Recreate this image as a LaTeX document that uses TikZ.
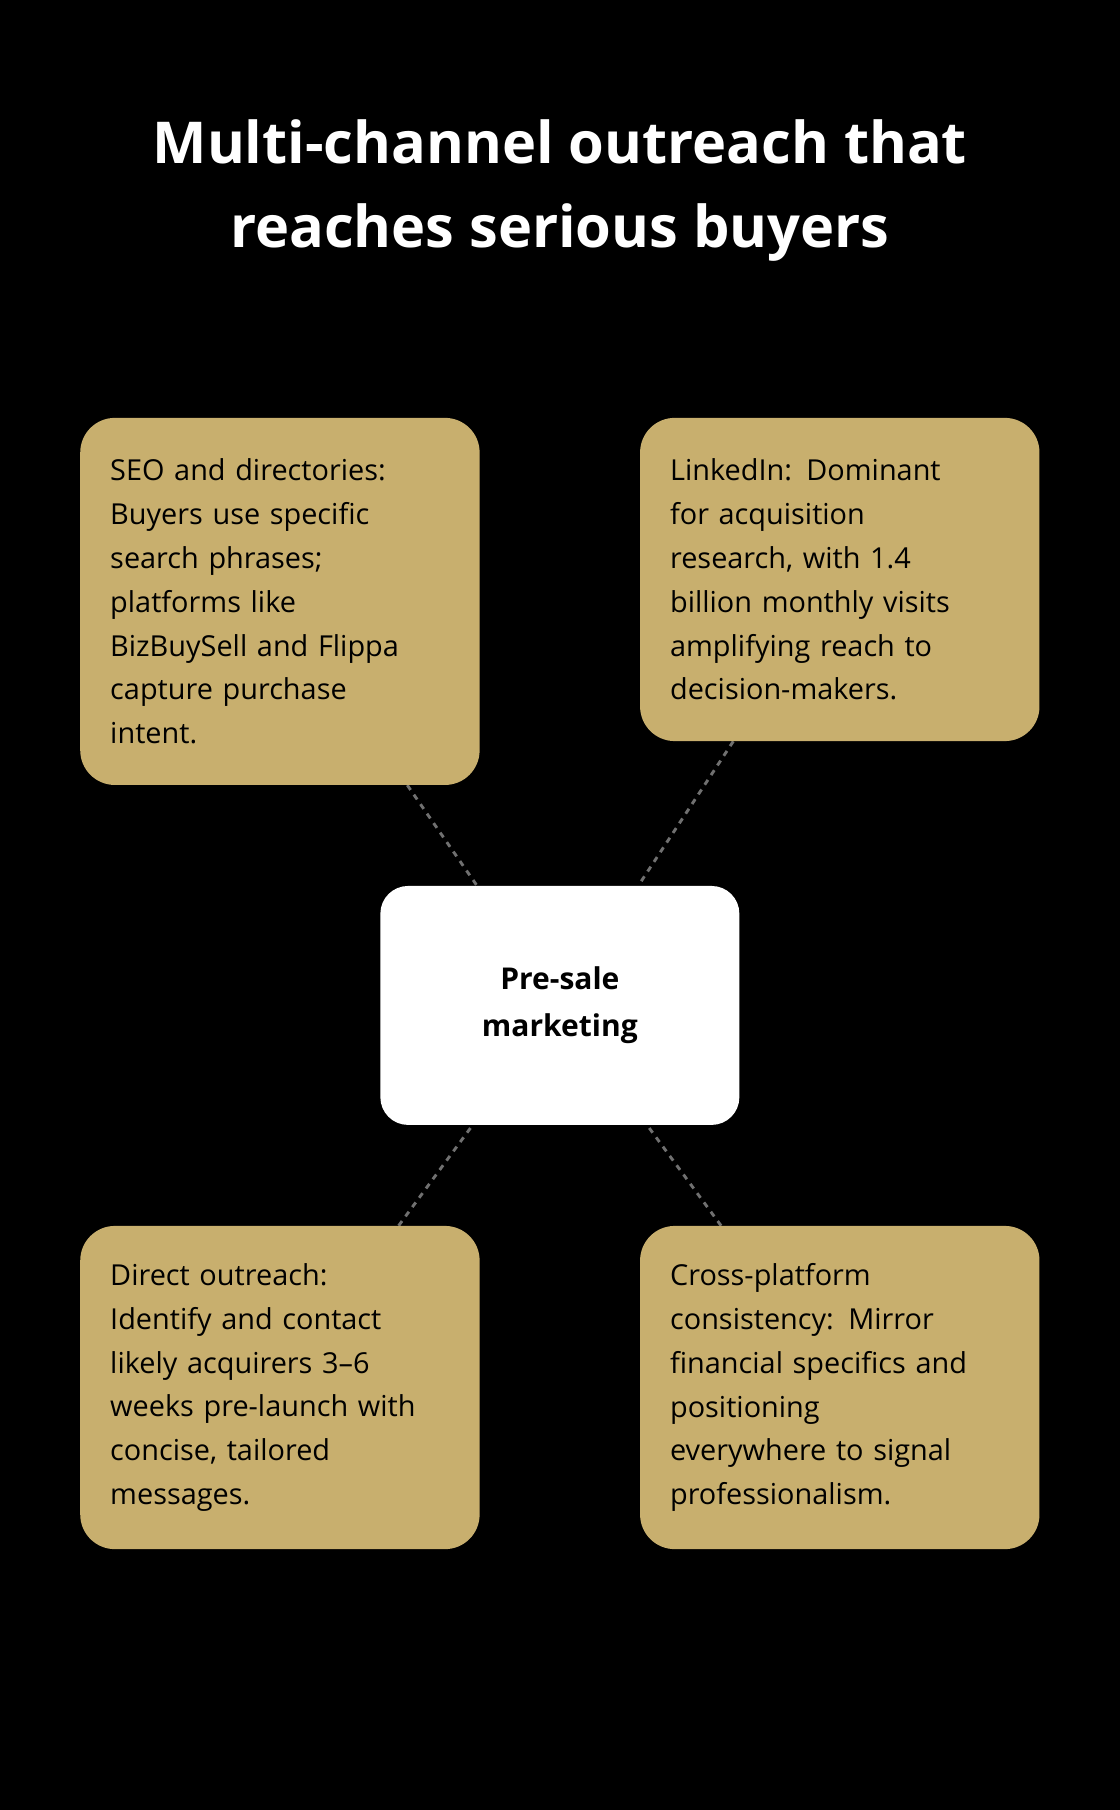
\documentclass[tikz,border=0pt]{standalone}
\usepackage{fontspec}
\setmainfont{Open Sans}
\usetikzlibrary{backgrounds}
\definecolor{gold}{HTML}{C8AF6E}
\definecolor{linkgray}{HTML}{707070}
\begin{document}
\begin{tikzpicture}[x=1pt,y=-1pt,
    card/.style={fill=gold,rounded corners=30pt,minimum width=346pt,text width=294pt,
      inner sep=26pt,align=left,font=\fontsize{25}{38}\selectfont},
    hub/.style={fill=white,rounded corners=24pt,minimum width=311pt,minimum height=207pt,
      align=center,font=\bfseries\fontsize{26}{41}\selectfont},
    link/.style={draw=linkgray,line width=2.5pt,dash pattern=on 5pt off 5pt},
  ]
  \useasboundingbox (0,0) rectangle (970,1568);
  \node[align=center,text=white,font=\bfseries\fontsize{50}{73}\selectfont] (title) at (485,165)
    {Multi-channel outreach that\\reaches serious buyers};
  \node[hub] (C) at (485,871) {Pre-sale\\marketing};
  \node[card,minimum height=318pt] (seo) at (242.5,521) {SEO and directories:\\Buyers use specific\\search phrases;\\platforms like\\BizBuySell and Flippa\\capture purchase\\intent.};
  \node[card,minimum height=280pt] (lin) at (727.5,502) {LinkedIn: Dominant\\for acquisition\\research, with 1.4\\billion monthly visits\\amplifying reach to\\decision-makers.};
  \node[card,minimum height=280pt] (dir) at (242.5,1202) {Direct outreach:\\Identify and contact\\likely acquirers 3--6\\weeks pre-launch with\\concise, tailored\\messages.};
  \node[card,minimum height=280pt] (cross) at (727.5,1202) {Cross-platform\\consistency: Mirror\\financial specifics and\\positioning\\everywhere to signal\\professionalism.};
  \begin{pgfonlayer}{background}
    \fill[black] (0,0) rectangle (970,1568);
    \foreach \n in {seo,lin,dir,cross}
      \draw[link] (\n) -- (C);
  \end{pgfonlayer}
\end{tikzpicture}
\end{document}
